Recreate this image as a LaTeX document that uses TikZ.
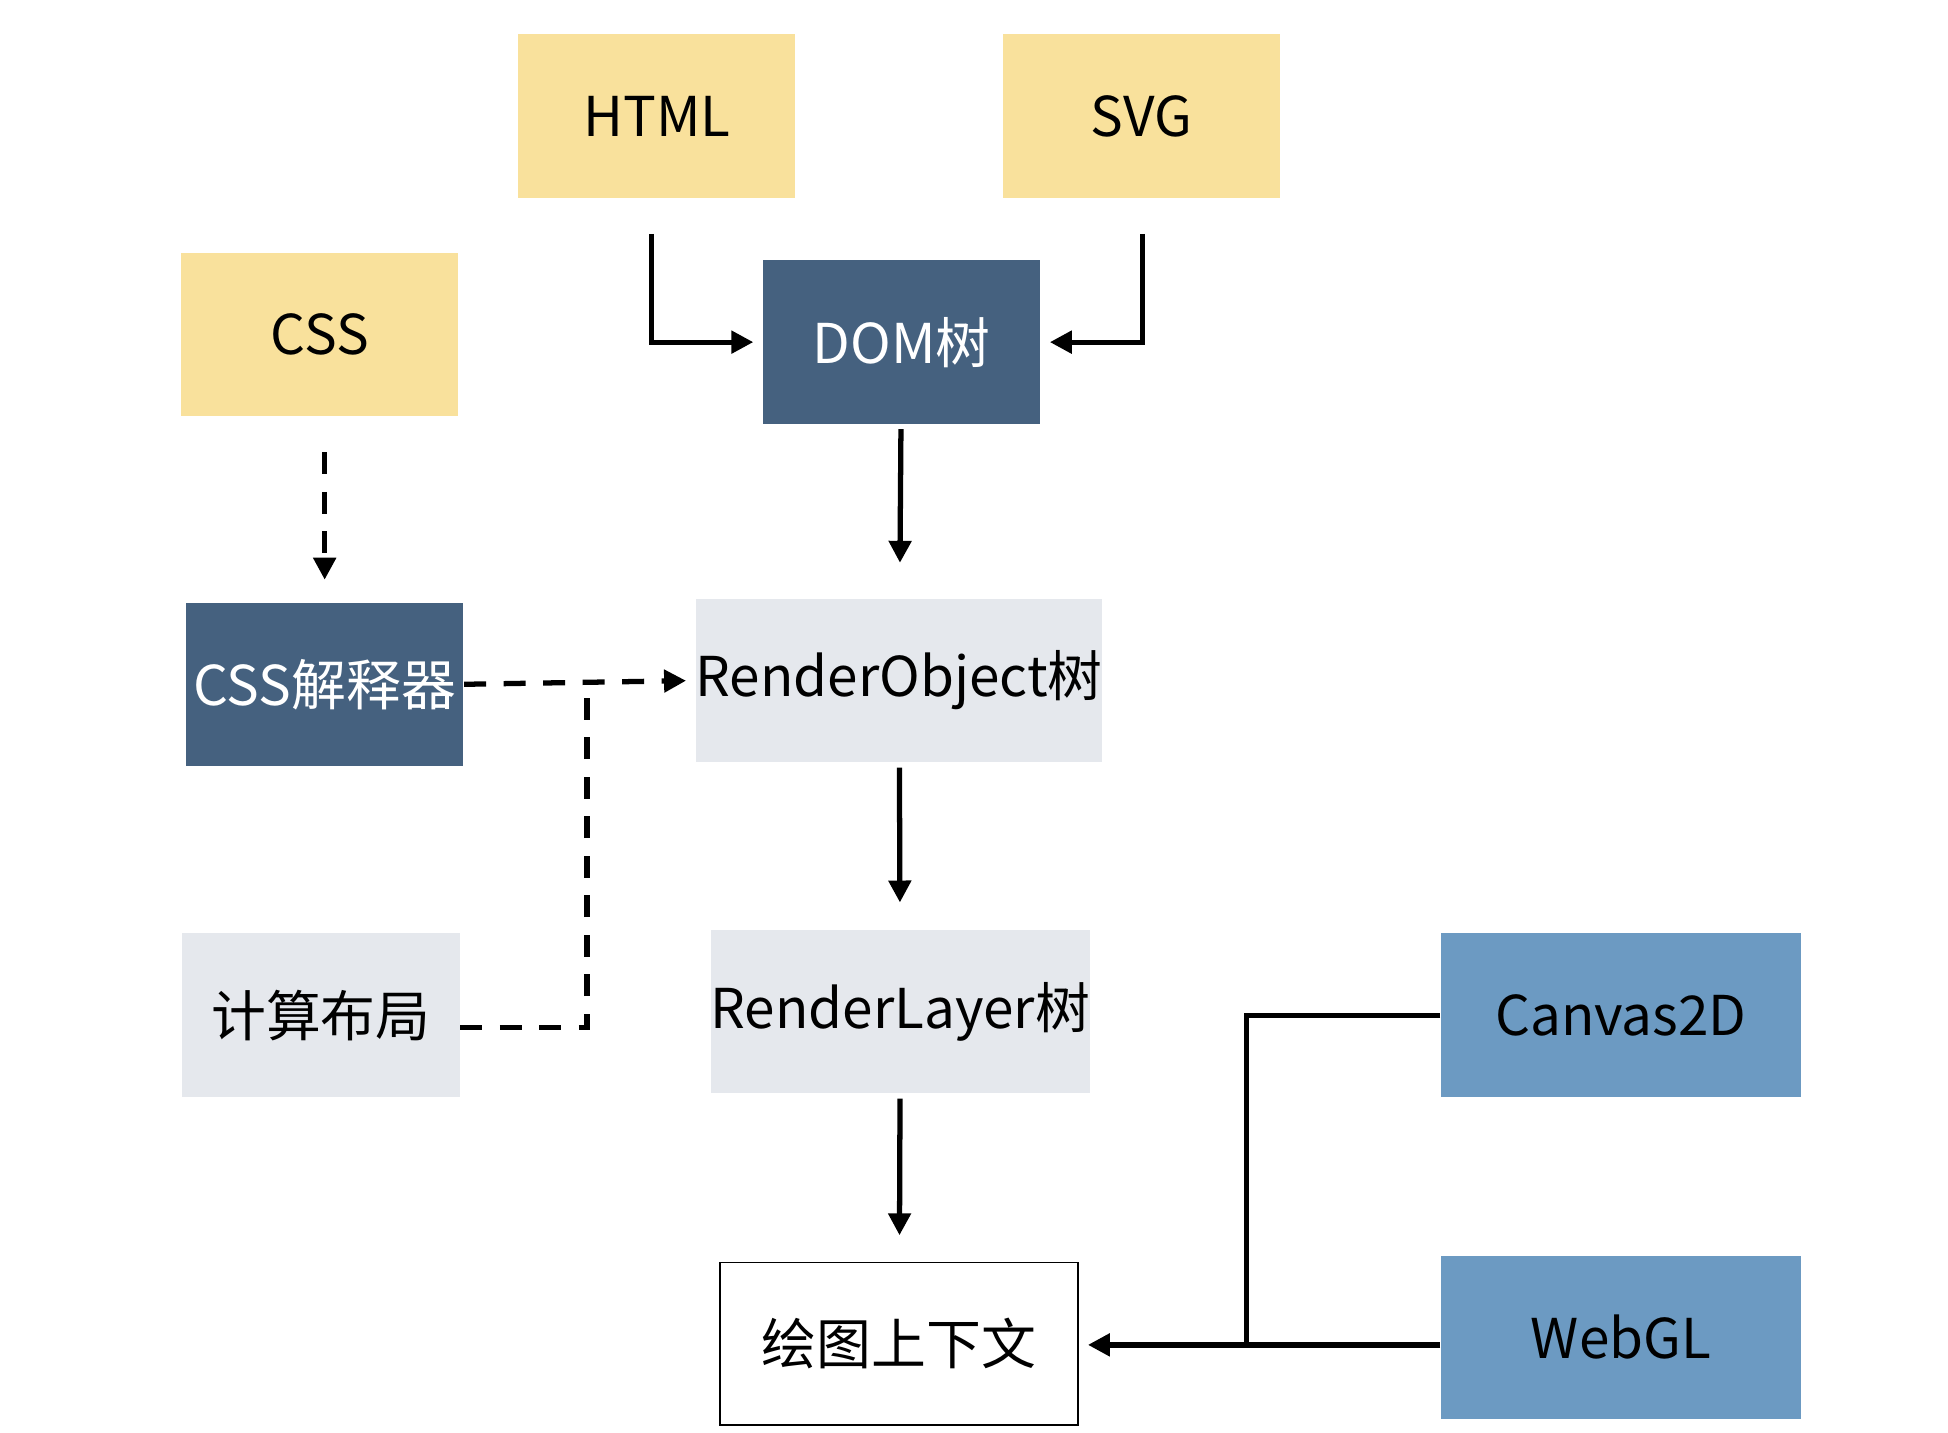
\documentclass[tikz,border=0pt]{standalone}
\usepackage{fontspec}
\setmainfont{Noto Sans CJK SC}
\usetikzlibrary{arrows.meta}
\definecolor{yel}{HTML}{F9E19C}
\definecolor{dark}{HTML}{45617F}
\definecolor{pale}{HTML}{E5E8ED}
\definecolor{steel}{HTML}{6C9AC2}
\tikzset{ box/.style = { rectangle
                       , inner sep    = 0pt
                       , minimum width  = 2.22cm
                       , minimum height = 1.31cm
                       , font = \fontsize{12.5}{14}\selectfont
                       },
          src/.style = { box, fill = yel },
          eng/.style = { box, fill = dark, text = white },
          tre/.style = { box, fill = pale, minimum width = 2.88cm },
          api/.style = { box, fill = steel, minimum width = 2.88cm },
          ln/.style  = { line width = 1.2pt, -{Triangle[length=5pt,width=5pt]} },
          dsh/.style = { ln, dash pattern = on 5pt off 4pt }
        }
\begin{document}
\begin{tikzpicture}
  \useasboundingbox (0,0) rectangle (15.6,-11.47);
  \node[src] (html) at (5.26,-0.93) {HTML};
  \node[src] (svg)  at (9.14,-0.93) {SVG};
  \node[src] (css)  at (2.56,-2.68) {CSS};
  \node[eng] (dom)  at (7.22,-2.74) {DOM树};
  \node[eng] (parser) at (2.60,-5.48) {CSS解释器};
  \node[tre] (robj) at (7.20,-5.45) {RenderObject树};
  \node[box, fill = pale] (layout) at (2.57,-8.13) {计算布局};
  \node[tre] (rlay) at (7.21,-8.10) {RenderLayer树};
  \node[box, draw, thin, minimum width = 2.87cm, minimum height = 1.30cm] (ctx) at (7.20,-10.76) {绘图上下文};
  \node[api] (c2d)  at (12.98,-8.13) {Canvas2D};
  \node[api] (gl)   at (12.98,-10.71) {WebGL};
  % solid flow
  \draw[ln, shorten <=8pt, shorten >=2pt] (html.south -| 5.22,0) |- (dom.west);
  \draw[ln, shorten <=8pt, shorten >=2pt] (svg.south -| 9.15,0) |- (dom.east);
  \draw[ln, shorten <=1pt, shorten >=8pt] (dom) -- (robj);
  \draw[ln, shorten <=1pt, shorten >=6pt] (robj) -- (rlay);
  \draw[ln, shorten <=1pt, shorten >=6pt] (rlay) -- (ctx);
  \coordinate (join) at (9.98,-10.77);
  \draw[line width=1.2pt] (c2d.west) -| (join);
  \draw[ln, shorten >=2pt] (gl.west |- join) -- (ctx.east |- join);
  % dashed flow
  \draw[dsh, shorten <=8pt, shorten >=5pt] (css.south -| parser) -- (parser.north);
  \draw[dsh, shorten >=2pt] (parser.east) -- (robj.west);
  \draw[dash pattern = on 5pt off 4pt, line width=1.2pt] (layout.east |- 0,-8.23) -| (4.70,-5.45);
\end{tikzpicture}
\end{document}
